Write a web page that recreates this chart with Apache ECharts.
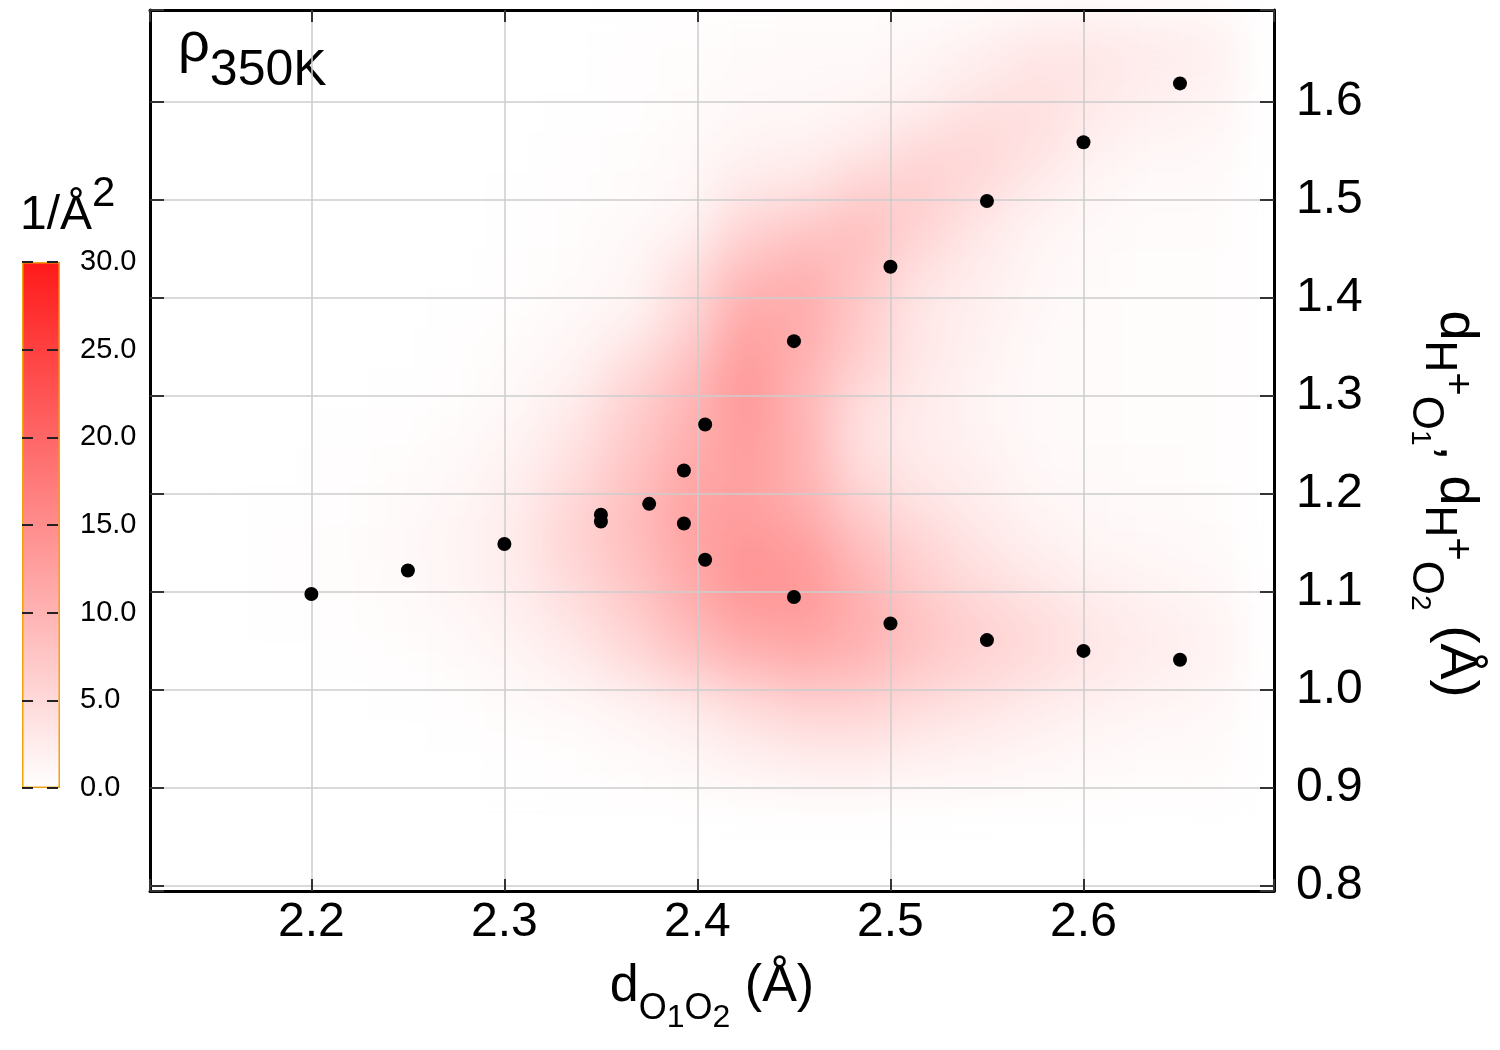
<!DOCTYPE html>
<html>
<head>
<meta charset="utf-8">
<script src="https://cdn.jsdelivr.net/npm/echarts@6/dist/echarts.min.js"></script>
<style>
html,body{margin:0;padding:0;background:#fff;}
#wrap{position:relative;width:1500px;height:1050px;}
#heat,#main{position:absolute;left:0;top:0;width:1500px;height:1050px;}
#heat{filter:blur(22px);}
</style>
</head>
<body>
<div id="wrap"><div id="heat"></div><div id="main"></div></div>
<script>
// ---------------- data ----------------
const xCenters = [2.155,2.185,2.215,2.245,2.275,2.305,2.335,2.365,2.395,2.425,2.455,2.485,2.515,2.545,2.575,2.605,2.635,2.665];
const yCenters = [0.91,0.95,0.99,1.03,1.07,1.11,1.15,1.19,1.23,1.27,1.31,1.35,1.39,1.43,1.47,1.51,1.55,1.59,1.63,1.67];
// density (1/Å^2), one row per yCenter (bottom to top), one column per xCenter
const heatValues = [
  [0,0,0,0,0,0.1,0.2,0.4,0.7,1.2,1.6,1.6,1.2,1.0,0.8,0.6,0.5,0.5],
  [0,0,0,0,0.1,0.2,0.4,0.9,1.6,2.8,3.6,3.8,2.8,2.2,1.6,1.1,0.8,0.7],
  [0,0,0,0.1,0.3,0.6,1.0,1.8,3.2,5.0,6.4,6.2,4.8,3.8,2.8,2.0,1.4,1.1],
  [0,0,0.1,0.3,0.6,1.2,2.4,4.4,7.2,9.4,10.4,9.4,7.2,5.8,4.6,3.2,2.2,1.7],
  [0,0.1,0.3,0.5,0.9,1.8,3.6,6.2,9.4,12.0,12.6,10.6,7.8,6.0,4.6,3.2,2.2,1.6],
  [0,0.2,0.4,0.7,1.3,2.3,4.8,7.5,11.0,14.0,13.6,10.0,6.6,4.6,3.1,2.0,1.4,1.0],
  [0,0.2,0.4,0.8,1.4,2.6,5.6,8.4,11.6,13.6,12.6,8.4,5.5,3.4,2.0,1.2,0.9,0.7],
  [0,0.1,0.3,0.6,1.2,2.4,5.2,8.4,12.0,12.6,10.5,6.2,3.8,2.5,1.3,0.9,0.7,0.5],
  [0,0,0.2,0.4,0.8,1.8,4.0,7.6,11.0,12.6,10.0,4.4,2.8,1.9,0.9,0.6,0.5,0.4],
  [0,0,0.1,0.2,0.5,1.2,3.2,6.6,10.0,13.2,10.0,3.8,2.5,1.5,0.8,0.5,0.4,0.4],
  [0,0,0,0.1,0.3,0.8,2.0,5.5,9.0,13.6,9.6,5.0,2.8,1.5,0.8,0.5,0.4,0.4],
  [0,0,0,0,0.2,0.5,1.2,3.2,7.0,12.6,10.6,6.6,3.2,1.8,0.8,0.5,0.4,0.4],
  [0,0,0,0,0.1,0.3,0.8,1.4,5.0,11.0,11.0,7.0,3.2,2.0,1.0,0.5,0.4,0.4],
  [0,0,0,0,0,0.2,0.5,1.0,4.0,8.4,10.0,7.8,4.0,2.5,1.2,0.6,0.4,0.4],
  [0,0,0,0,0,0.1,0.4,0.8,1.6,5.6,7.4,8.4,5.8,3.2,1.5,0.8,0.5,0.5],
  [0,0,0,0,0,0.1,0.3,0.5,1.0,3.2,3.8,6.2,6.4,4.6,2.5,1.2,0.7,0.6],
  [0,0,0,0,0,0,0.2,0.4,0.8,1.6,2.0,3.2,5.0,5.2,3.8,1.8,1.0,0.9],
  [0,0,0,0,0,0,0.1,0.3,0.5,1.0,1.1,1.6,2.6,4.2,4.2,2.8,1.8,1.4],
  [0,0,0,0,0,0,0,0.2,0.4,0.6,0.8,0.8,1.3,2.5,3.7,3.3,2.4,1.8],
  [0,0,0,0,0,0,0,0.2,0.4,0.6,0.8,0.8,1.0,1.6,2.6,2.8,2.4,2.0]
];
const pointX = [2.2,2.25,2.3,2.35,2.35,2.375,2.393,2.393,2.404,2.404,2.45,2.45,2.5,2.5,2.55,2.55,2.6,2.6,2.65,2.65];
const pointY = [1.098,1.122,1.149,1.179,1.172,1.190,1.224,1.170,1.271,1.133,1.356,1.095,1.432,1.068,1.499,1.051,1.559,1.040,1.619,1.031];
const colorbarTicks = [0,5,10,15,20,25,30];

// ---------------- layout / style ----------------
const F = "'Liberation Sans', Arial, Helvetica, sans-serif";
const PLOT = {left:150, right:226, top:10, bottom:159};
const X_MIN = 2.1164, X_MAX = 2.6987;
const Y_MIN = 0.795, Y_MAX = 1.6939;
const CELL_W = 0.03, CELL_H = 0.04;
const HEAT_COLORS = ['#ffffff', '#ff1a1a'];

const heatData = [];
yCenters.forEach((y, i) => xCenters.forEach((x, j) => heatData.push([x, y, heatValues[i][j]])));
const points = pointX.map((x, i) => [x, pointY[i]]);

function tenthLabel(v) {
  return Math.abs(v * 10 - Math.round(v * 10)) < 1e-6 ? v.toFixed(1) : '';
}

// ---------------- density layer ----------------
const heat = echarts.init(document.getElementById('heat'));
heat.setOption({
  animation: false,
  backgroundColor: 'transparent',
  grid: Object.assign({}, PLOT),
  xAxis: {type:'value', min:X_MIN, max:X_MAX, show:false},
  yAxis: {type:'value', min:Y_MIN, max:Y_MAX, show:false},
  visualMap: {type:'continuous', show:false, min:colorbarTicks[0], max:colorbarTicks[colorbarTicks.length-1],
              dimension:2, seriesIndex:0, inRange:{color:HEAT_COLORS}},
  series: [{
    type:'custom', data:heatData, encode:{x:0, y:1}, clip:true, silent:true,
    renderItem: function (params, api) {
      const x = api.value(0), y = api.value(1);
      const a = api.coord([x - CELL_W/2, y + CELL_H/2]);
      const b = api.coord([x + CELL_W/2, y - CELL_H/2]);
      return {type:'rect', shape:{x:a[0], y:a[1], width:b[0]-a[0]+1, height:b[1]-a[1]+1},
              style:{fill: api.visual('color')}};
    }
  }]
});

// ---------------- main chart ----------------
const frameLine = {show:true, onZero:false, lineStyle:{color:'#000', width:3}};
const tickStyle = {color:'#333', width:2};
const main = echarts.init(document.getElementById('main'));
main.setOption({
  animation: false,
  backgroundColor: 'transparent',
  grid: [Object.assign({}, PLOT), {left:22, top:262, width:38, height:526}],
  xAxis: [
    {gridIndex:0, type:'value', position:'bottom', min:X_MIN, max:X_MAX, splitNumber:6, minInterval:0.1, maxInterval:0.1,
     axisLine:frameLine, axisTick:{inside:true, length:12, lineStyle:tickStyle},
     axisLabel:{fontSize:48, color:'#000', fontFamily:F, margin:8, formatter:tenthLabel},
     splitLine:{show:true, lineStyle:{color:'#cccccc', width:1.5}}},
    {gridIndex:0, type:'value', position:'top', min:X_MIN, max:X_MAX, splitNumber:6, minInterval:0.1, maxInterval:0.1,
     axisLine:frameLine, axisTick:{inside:true, length:12, lineStyle:tickStyle},
     axisLabel:{show:false}, splitLine:{show:false}},
    {gridIndex:1, type:'category', data:['bar'], show:false}
  ],
  yAxis: [
    {gridIndex:0, type:'value', position:'right', min:Y_MIN, max:Y_MAX, splitNumber:9, minInterval:0.1, maxInterval:0.1,
     axisLine:frameLine, axisTick:{inside:true, length:14, lineStyle:tickStyle},
     axisLabel:{fontSize:48, color:'#000', fontFamily:F, margin:22, formatter:tenthLabel},
     splitLine:{show:true, lineStyle:{color:'#cccccc', width:1.5}}},
    {gridIndex:0, type:'value', position:'left', min:Y_MIN, max:Y_MAX, splitNumber:9, minInterval:0.1, maxInterval:0.1,
     axisLine:frameLine, axisTick:{inside:true, length:14, lineStyle:tickStyle},
     axisLabel:{show:false}, splitLine:{show:false}},
    {gridIndex:1, type:'value', position:'right', min:colorbarTicks[0], max:colorbarTicks[colorbarTicks.length-1],
     interval:colorbarTicks[1]-colorbarTicks[0], z:5,
     axisLine:{show:false}, axisTick:{show:false},
     axisLabel:{fontSize:29, color:'#000', fontFamily:F, margin:20, formatter:v => v.toFixed(1)},
     splitLine:{show:true, lineStyle:{color:'#222', width:2, type:[11,14]}}}
  ],
  series: [
    {type:'bar', xAxisIndex:2, yAxisIndex:2, data:[colorbarTicks[colorbarTicks.length-1]], barWidth:'100%', silent:true,
     itemStyle:{color:{type:'linear', x:0, y:0, x2:0, y2:1,
                       colorStops:[{offset:0, color:HEAT_COLORS[1]}, {offset:1, color:HEAT_COLORS[0]}]},
                borderColor:'#f2a20c', borderWidth:1.5}},
    {type:'scatter', xAxisIndex:0, yAxisIndex:0, data:points, symbol:'circle', symbolSize:14,
     itemStyle:{color:'#000', opacity:1}, z:10, silent:true}
  ],
  graphic: [
    {type:'text', x:178, y:46, silent:true,
     style:{text:'{m|ρ}{s|350K}', align:'left', verticalAlign:'middle',
            rich:{m:{fontSize:56, fontFamily:F, fill:'#000'},
                  s:{fontSize:50, fontFamily:F, fill:'#000', padding:[50,0,0,0]}}}},
    {type:'text', x:20, y:216, silent:true,
     style:{text:'{m|1/Å}{u|2}', align:'left', verticalAlign:'middle',
            rich:{m:{fontSize:48, fontFamily:F, fill:'#000'},
                  u:{fontSize:42, fontFamily:F, fill:'#000', padding:[0,0,44,0]}}}},
    {type:'text', x:712, y:987, silent:true,
     style:{text:'{m|d}{s|O}{q|1}{s|O}{q|2}{m| (Å)}', align:'center', verticalAlign:'middle',
            rich:{m:{fontSize:52, fontFamily:F, fill:'#000'},
                  s:{fontSize:36, fontFamily:F, fill:'#000', padding:[44,0,0,0]},
                  q:{fontSize:32, fontFamily:F, fill:'#000', padding:[62,0,0,0]}}}},
    {type:'text', x:1456, y:504, rotation:-Math.PI/2, silent:true,
     style:{text:'{m|d}{s|H}{p|+}{o|O}{q|1}{m|, d}{s|H}{p|+}{o|O}{q|2}{m| (Å)}', align:'center', verticalAlign:'middle',
            rich:{m:{fontSize:54, fontFamily:F, fill:'#000'},
                  s:{fontSize:44, fontFamily:F, fill:'#000', padding:[35,0,0,0]},
                  p:{fontSize:40, fontFamily:F, fill:'#000'},
                  o:{fontSize:44, fontFamily:F, fill:'#000', padding:[61,0,0,0]},
                  q:{fontSize:28, fontFamily:F, fill:'#000', padding:[72,0,0,0]}}}}
  ]
});
</script>
</body>
</html>
